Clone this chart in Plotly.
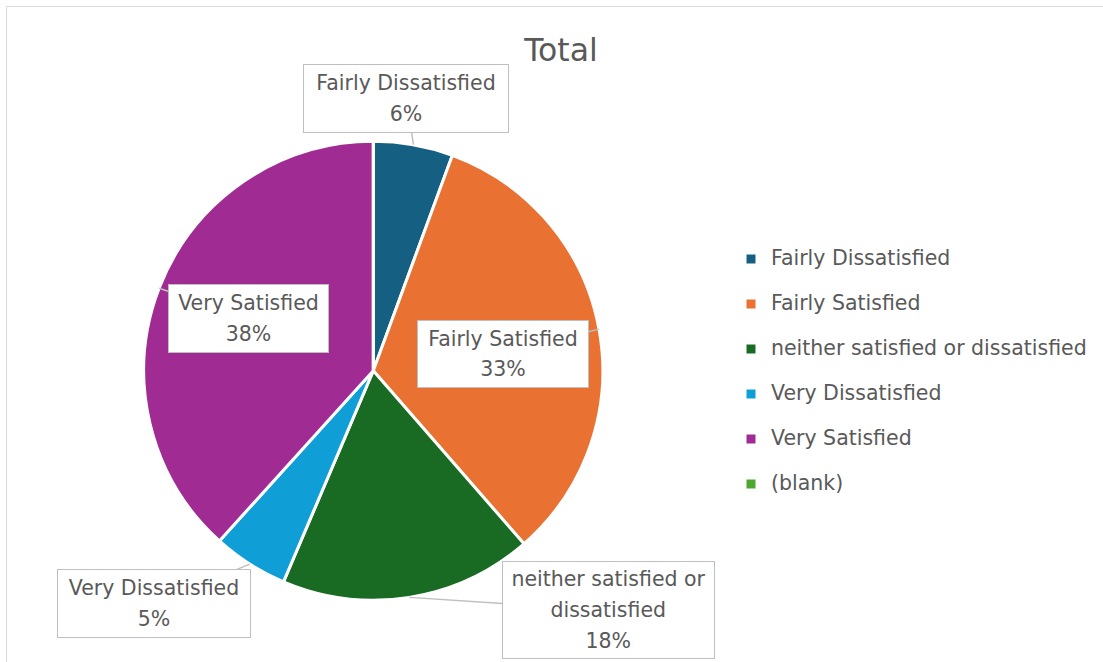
import math
import plotly.graph_objects as go

# ---------------- data ----------------
categories = ["Fairly Dissatisfied", "Fairly Satisfied", "neither satisfied or dissatisfied",
              "Very Dissatisfied", "Very Satisfied", "(blank)"]
values = [5.6, 33.0, 17.8, 5.3, 38.3, 0]
colors = ["#156082", "#E97132", "#196B24", "#0F9ED5", "#A02B93", "#4EA72E"]
callout_names = ["Fairly Dissatisfied", "Fairly Satisfied", "neither satisfied or<br>dissatisfied",
                 "Very Dissatisfied", "Very Satisfied", None]
title_text = "Total"

# ---------------- layout geometry (pixels) ----------------
W, H = 1103, 662
CX, CY, R = 373.3, 370.7, 229.5
box_offsets = [(-7, -46), (-96, 24.5), (199.5, 13), (-96, 39.5), (89, 30.5), None]
box_sizes = [(204, 67), (170, 66), (211, 96), (192, 67), (159, 67), None]

FONT = "DejaVu Sans"
TXT = "#595959"
LBL = 20.5

total = sum(values)
pcts = [v / total * 100 for v in values]
pct_labels = [f"{int(p + 0.5)}%" for p in pcts]

legend_labels = [f"<span style='font-size:{LBL}px'>{c}</span><br> " for c in categories]

fig = go.Figure(go.Pie(
    labels=legend_labels,
    values=values,
    sort=False,
    direction="clockwise",
    rotation=0,
    textinfo="none",
    hoverinfo="label+percent",
    marker=dict(colors=colors, line=dict(color="white", width=3)),
    domain=dict(x=[(CX - R) / W, (CX + R) / W], y=[1 - (CY + R) / H, 1 - (CY - R) / H]),
))

annotations = []
cum = 0.0
for i, v in enumerate(values):
    frac_mid = (cum + v / 2) / total
    cum += v
    if callout_names[i] is None or v == 0:
        continue
    ang = 2 * math.pi * frac_mid
    tx = CX + R * math.sin(ang)
    ty = CY - R * math.cos(ang)
    ox, oy = box_offsets[i]
    bw, bh = box_sizes[i]
    annotations.append(dict(
        x=tx / W, y=1 - ty / H, xref="paper", yref="paper",
        ax=ox, ay=oy, axref="pixel", ayref="pixel",
        showarrow=True, arrowhead=0, arrowwidth=1.5, arrowcolor="#BFBFBF", standoff=0,
        text=f"<span style='font-size:{LBL}px'>{callout_names[i]}</span><br>"
             f"<span style='font-size:{LBL}px'>{pct_labels[i]}</span>",
        font=dict(family=FONT, size=23.5, color=TXT),
        bgcolor="white", bordercolor="#BFBFBF", borderwidth=1, borderpad=0,
        width=bw, height=bh, align="center", valign="middle",
    ))

fig.update_layout(
    width=W, height=H,
    margin=dict(l=0, r=0, t=0, b=0),
    paper_bgcolor="white",
    font=dict(family=FONT, color=TXT),
    title=dict(text=title_text, x=561 / W, xanchor="center", xref="paper",
               y=1 - 50 / H, yanchor="middle", yref="container",
               font=dict(family=FONT, size=31.5, color=TXT)),
    showlegend=True,
    legend=dict(x=731 / W, y=1 - 242 / H, xanchor="left", yanchor="top",
                font=dict(family=FONT, size=16.15, color=TXT),
                valign="top", bgcolor="rgba(0,0,0,0)", traceorder="normal"),
    annotations=annotations,
    shapes=[dict(type="rect", xref="paper", yref="paper",
                 x0=6.5 / W, x1=1.02, y0=-0.05, y1=1 - 6.5 / H,
                 line=dict(color="#D9D9D9", width=1), fillcolor="rgba(0,0,0,0)", layer="below")],
)

fig.write_html("out.html", config={"displayModeBar": False},
               post_script="document.body.style.margin='0';")
